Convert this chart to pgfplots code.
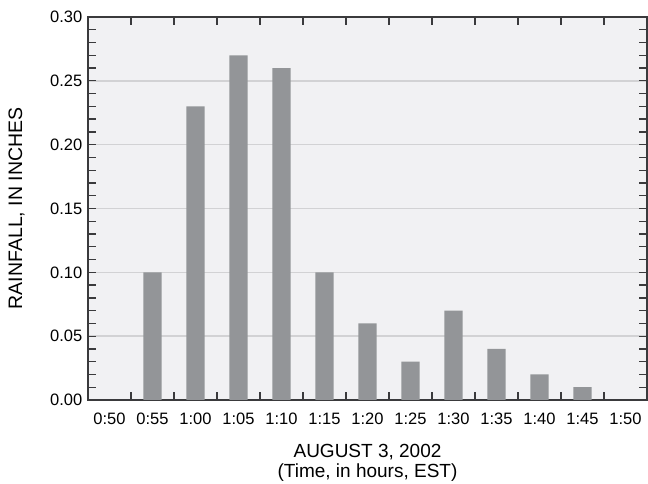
\documentclass[border=0pt]{standalone}
\usepackage{fontspec}
\setmainfont{Liberation Sans}
\usepackage{pgfplots}
\pgfplotsset{compat=1.18}
\definecolor{bg}{HTML}{F1F1F3}
\definecolor{barc}{HTML}{939598}
\definecolor{grd}{HTML}{D2D2D4}
\definecolor{axc}{HTML}{3A3A3C}
\begin{document}
\fontsize{16.5}{20}\selectfont
\begin{tikzpicture}
\begin{axis}[
  scale only axis, width=559pt, height=383pt,
  xmin=-0.5, xmax=12.5, ymin=0, ymax=0.30,
  axis background/.style={fill=bg},
  ybar, bar width=0.42, bar shift=0pt,
  xtick={0,...,12},
  xticklabels={0:50,0:55,1:00,1:05,1:10,1:15,1:20,1:25,1:30,1:35,1:40,1:45,1:50},
  major x tick style={draw=none},
  minor xtick={0.5,1.5,...,11.5},
  ytick={0,0.05,0.10,0.15,0.20,0.25,0.30},
  minor ytick={0.01,0.02,0.03,0.04,0.06,0.07,0.08,0.09,0.11,0.12,0.13,0.14,0.16,0.17,0.18,0.19,0.21,0.22,0.23,0.24,0.26,0.27,0.28,0.29},
  ymajorgrids=true,
  grid style={grd, line width=1.5pt},
  tick align=inside,
  major tick length=8pt, minor tick length=8pt,
  tick style={axc, line width=1.3pt},
  axis line style={axc, line width=1.5pt},
  /pgf/number format/assume math mode=true,
  yticklabel style={/pgf/number format/.cd, fixed, fixed zerofill, precision=2},
  xticklabel style={yshift=-7.5pt},
  xlabel={AUGUST 3, 2002\\(Time, in hours, EST)},
  xlabel style={at={(axis description cs:0.5,0)}, anchor=north, yshift=-39pt, align=center, font=\fontsize{19}{20}\selectfont},
  ylabel={RAINFALL, IN INCHES},
  ylabel style={at={(axis description cs:0,0.5)}, anchor=center, yshift=71.5pt, font=\fontsize{19.5}{22}\selectfont},
]
\addplot[fill=barc, draw=none] coordinates {
(1,0.10) (2,0.23) (3,0.27) (4,0.26) (5,0.10) (6,0.06) (7,0.03) (8,0.07) (9,0.04) (10,0.02) (11,0.01)};
\coordinate (bl) at (rel axis cs:0,0);
\coordinate (tr) at (rel axis cs:1,1);
\end{axis}
\pgfresetboundingbox
\path ([shift={(-88pt,-84pt)}]bl) rectangle ([shift={(1pt,17pt)}]tr);
\end{tikzpicture}
\end{document}
